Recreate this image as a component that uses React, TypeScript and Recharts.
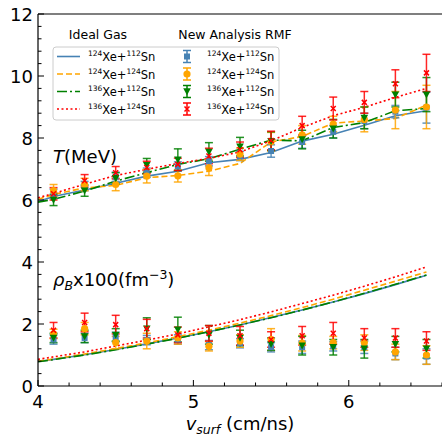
import React from "react";
import {
	ComposedChart,
	Line,
	Scatter,
	ErrorBar,
	XAxis,
	YAxis,
	ReferenceLine,
} from "recharts";

const BLUE = "#4682b4";
const ORANGE = "#ffa500";
const GREEN = "#008000";
const RED = "#ff0000";
const FONT = "DejaVu Sans";

// ideal gas curves
const xLine = [4.0, 4.1, 4.3, 4.5, 4.7, 4.9, 5.1, 5.3, 5.5, 5.7, 5.9, 6.1, 6.3, 6.5];
const tIdealA = [5.95, 6.11, 6.32, 6.54, 6.77, 6.93, 7.2, 7.31, 7.53, 7.9, 8.12, 8.41, 8.72, 8.88];
const tIdealB = [6.02, 6.18, 6.39, 6.47, 6.72, 6.79, 6.93, 7.18, 7.87, 8.05, 8.48, 8.55, 8.63, 9.06];
const tIdealC = [5.93, 6.02, 6.29, 6.61, 6.88, 7.15, 7.33, 7.64, 7.93, 7.91, 8.34, 8.5, 8.88, 8.95];
const tIdealD = [6.07, 6.21, 6.51, 6.79, 6.99, 7.18, 7.34, 7.55, 7.91, 8.34, 8.72, 8.99, 9.31, 9.6];
const rIdealA = [0.79, 0.86, 1.01, 1.18, 1.36, 1.55, 1.75, 1.97, 2.21, 2.45, 2.71, 2.98, 3.27, 3.57];
const rIdealB = [0.8, 0.87, 1.03, 1.21, 1.39, 1.59, 1.8, 2.03, 2.27, 2.53, 2.8, 3.09, 3.38, 3.68];
const rIdealC = [0.78, 0.85, 1.0, 1.17, 1.35, 1.54, 1.75, 1.97, 2.2, 2.45, 2.71, 2.99, 3.28, 3.58];
const rIdealD = [0.86, 0.94, 1.1, 1.29, 1.48, 1.68, 1.91, 2.14, 2.39, 2.66, 2.93, 3.22, 3.52, 3.84];

// new analysis RMF points
const xPts = [4.1, 4.3, 4.5, 4.7, 4.9, 5.1, 5.3, 5.5, 5.7, 5.9, 6.1, 6.3, 6.5];
const tRmfA = [6.2, 6.45, 6.75, 6.88, 7.08, 7.25, 7.42, 7.58, 7.87, 8.2, 8.55, 8.85, 8.98];
const tErrA = [0.15, 0.15, 0.15, 0.15, 0.15, 0.15, 0.15, 0.2, 0.2, 0.2, 0.25, 0.2, 0.5];
const tRmfB = [6.3, 6.5, 6.5, 6.77, 6.78, 7.04, 7.48, 7.88, 8.1, 8.45, 8.6, 8.9, 9.0];
const tErrB = [0.2, 0.2, 0.2, 0.22, 0.2, 0.25, 0.2, 0.3, 0.3, 0.25, 0.4, 0.6, 0.7];
const tRmfC = [6.0, 6.3, 6.7, 7.12, 7.3, 7.55, 7.72, 7.9, 7.95, 8.3, 8.65, 9.4, 9.4];
const tErrC = [0.18, 0.18, 0.18, 0.22, 0.35, 0.3, 0.3, 0.3, 0.3, 0.3, 0.35, 0.4, 0.55];
const tRmfD = [6.2, 6.62, 6.88, 7.05, 7.15, 7.42, 7.62, 7.92, 8.4, 8.95, 9.15, 9.75, 10.1];
const tErrD = [0.2, 0.2, 0.2, 0.2, 0.2, 0.25, 0.25, 0.3, 0.3, 0.37, 0.35, 0.45, 0.6];
const rRmfA = [1.5, 1.55, 1.58, 1.48, 1.5, 1.32, 1.38, 1.25, 1.25, 1.28, 1.25, 1.05, 0.95];
const rErrA = [0.15, 0.15, 0.15, 0.15, 0.15, 0.15, 0.15, 0.15, 0.2, 0.15, 0.2, 0.2, 0.25];
const rRmfB = [1.68, 1.85, 1.4, 1.45, 1.55, 1.28, 1.45, 1.5, 1.38, 1.4, 1.4, 1.1, 1.0];
const rErrB = [0.15, 0.2, 0.2, 0.25, 0.2, 0.15, 0.2, 0.35, 0.25, 0.2, 0.25, 0.25, 0.3];
const rRmfC = [1.55, 1.6, 1.65, 1.85, 1.82, 1.65, 1.55, 1.35, 1.3, 1.25, 1.2, 1.35, 1.2];
const rErrC = [0.15, 0.2, 0.2, 0.35, 0.4, 0.3, 0.25, 0.2, 0.3, 0.25, 0.3, 0.25, 0.3];
const rRmfD = [1.8, 2.05, 1.98, 1.85, 1.65, 1.7, 1.62, 1.5, 1.62, 1.7, 1.55, 1.55, 1.45];
const rErrD = [0.25, 0.3, 0.3, 0.3, 0.25, 0.25, 0.3, 0.25, 0.3, 0.35, 0.3, 0.3, 0.3];

// ticks
const xTicks = [4.0, 4.2, 4.4, 4.6, 4.8, 5.0, 5.2, 5.4, 5.6, 5.8, 6.0, 6.2, 6.4, 6.6];
const xMajor = [4, 5, 6];
const yTicks = [
	0, 0.4, 0.8, 1.2, 1.6, 2, 2.4, 2.8, 3.2, 3.6, 4, 4.4, 4.8, 5.2, 5.6, 6, 6.4,
	6.8, 7.2, 7.6, 8, 8.4, 8.8, 9.2, 9.6, 10, 10.4, 10.8, 11.2, 11.6, 12,
];
const yMajor = [0, 2, 4, 6, 8, 10, 12];

const reactions = [
	{ a: "124", b: "112" },
	{ a: "124", b: "124" },
	{ a: "136", b: "112" },
	{ a: "136", b: "124" },
];

const lineRows = xLine.map((x, i) => ({
	x,
	tA: tIdealA[i],
	tB: tIdealB[i],
	tC: tIdealC[i],
	tD: tIdealD[i],
	rA: rIdealA[i],
	rB: rIdealB[i],
	rC: rIdealC[i],
	rD: rIdealD[i],
}));

const pts = (vals: number[], errs: number[]) =>
	xPts.map((x, i) => ({ x, y: vals[i], e: errs[i] }));

const isMajor = (v: number, list: number[]) =>
	list.some((m) => Math.abs(m - v) < 1e-6);

const Square = (p: any) => (
	<rect x={p.cx - 3} y={p.cy - 3} width={6} height={6} fill={BLUE} />
);
const Circ = (p: any) => <circle cx={p.cx} cy={p.cy} r={3.6} fill={ORANGE} />;
const Tri = (p: any) => (
	<polygon
		points={`${p.cx - 3.8},${p.cy - 3.2} ${p.cx + 3.8},${p.cy - 3.2} ${p.cx},${p.cy + 3.8}`}
		fill={GREEN}
	/>
);
const Cross = (p: any) => (
	<path
		d={`M${p.cx - 2.5},${p.cy - 2.5}L${p.cx + 2.5},${p.cy + 2.5}M${p.cx - 2.5},${p.cy + 2.5}L${p.cx + 2.5},${p.cy - 2.5}`}
		stroke={RED}
		strokeWidth={1.5}
	/>
);

const markers = [Square, Circ, Tri, Cross];
const colors = [BLUE, ORANGE, GREEN, RED];
const dashes = ["", "6 3", "10 3 2 3", "2 2.5"];

function YTick(props: any) {
	const { x, y, payload } = props;
	const major = isMajor(payload.value, yMajor);
	return (
		<g>
			<line x1={x} x2={x + (major ? 6 : 3.5)} y1={y} y2={y} stroke='#000' />
			{major && (
				<text
					x={x - 5}
					y={y + 6.5}
					textAnchor='end'
					fontSize={18}
					fontFamily={FONT}
					fill='#000'>
					{payload.value}
				</text>
			)}
		</g>
	);
}

function XTick(props: any) {
	const { x, y, payload } = props;
	const major = isMajor(payload.value, xMajor);
	return (
		<g>
			<line x1={x} x2={x} y1={y} y2={y - (major ? 6 : 3.5)} stroke='#000' />
			{major && (
				<text
					x={x}
					y={y + 22}
					textAnchor='middle'
					fontSize={18}
					fontFamily={FONT}
					fill='#000'>
					{Math.round(payload.value)}
				</text>
			)}
		</g>
	);
}

function IsoLabel({ x, y, a, b }: { x: number; y: number; a: string; b: string }) {
	return (
		<text x={x} y={y} fontSize={11.5} fontFamily={FONT} fill='#000'>
			<tspan fontSize={7.5} dy={-5}>
				{a}
			</tspan>
			<tspan dy={5}>Xe+</tspan>
			<tspan fontSize={7.5} dy={-5}>
				{b}
			</tspan>
			<tspan dy={5}>Sn</tspan>
		</text>
	);
}

function Overlay() {
	const rows = [61, 78.5, 96, 113.5];
	return (
		<svg
			width={442}
			height={436}
			style={{ position: "absolute", left: 0, top: 0, pointerEvents: "none" }}>
			<text x={98} y={39} textAnchor='middle' fontSize={12.5} fontFamily={FONT}>
				Ideal Gas
			</text>
			<text x={235} y={39} textAnchor='middle' fontSize={12.5} fontFamily={FONT}>
				New Analysis RMF
			</text>
			<rect
				x={53}
				y={47}
				width={226}
				height={73}
				rx={3}
				fill='#fff'
				fillOpacity={0.8}
				stroke='#cccccc'
			/>
			{reactions.map((r, i) => {
				const cy = rows[i] - 4.5;
				const M = markers[i];
				return (
					<g key={i}>
						<line
							x1={57}
							x2={80}
							y1={cy}
							y2={cy}
							stroke={colors[i]}
							strokeWidth={1.6}
							strokeDasharray={dashes[i]}
						/>
						<IsoLabel x={88} y={rows[i]} a={r.a} b={r.b} />
						<g stroke={colors[i]} strokeWidth={1.5}>
							<line x1={187} x2={187} y1={cy - 6} y2={cy + 6} />
							<line x1={183} x2={191} y1={cy - 6} y2={cy - 6} />
							<line x1={183} x2={191} y1={cy + 6} y2={cy + 6} />
						</g>
						<M cx={187} cy={cy} />
						<IsoLabel x={207} y={rows[i]} a={r.a} b={r.b} />
					</g>
				);
			})}
			<text x={53} y={163} fontSize={18} fontFamily={FONT}>
				<tspan fontStyle='italic'>T</tspan>
				<tspan>(MeV)</tspan>
			</text>
			<text x={53} y={286} fontSize={18} fontFamily={FONT}>
				<tspan fontStyle='italic'>ρ</tspan>
				<tspan fontStyle='italic' fontSize={12.5} dy={4}>
					B
				</tspan>
				<tspan dy={-4}>x100(fm</tspan>
				<tspan fontSize={12.5} dy={-7}>
					−3
				</tspan>
				<tspan dy={7}>)</tspan>
			</text>
			<text x={240} y={430} textAnchor='middle' fontSize={18} fontFamily={FONT}>
				<tspan fontStyle='italic'>v</tspan>
				<tspan fontStyle='italic' fontSize={12.5} dy={4}>
					surf
				</tspan>
				<tspan dy={-4}> (cm/ns)</tspan>
			</text>
		</svg>
	);
}

const tSets = [
	[tRmfA, tErrA],
	[tRmfB, tErrB],
	[tRmfC, tErrC],
	[tRmfD, tErrD],
];
const rSets = [
	[rRmfA, rErrA],
	[rRmfB, rErrB],
	[rRmfC, rErrC],
	[rRmfD, rErrD],
];
const keys = ["A", "B", "C", "D"];

export default function App() {
	return (
		<div style={{ position: "absolute", left: 0, top: 0, width: 442, height: 436, background: "#fff" }}>
			<ComposedChart
				width={442}
				height={436}
				data={lineRows}
				margin={{ top: 14, right: 0, bottom: 0, left: 0 }}>
				<XAxis
					type='number'
					dataKey='x'
					domain={[4, 6.6]}
					ticks={xTicks}
					interval={0}
					tick={<XTick />}
					tickLine={false}
					tickSize={0}
					tickMargin={0}
					height={50}
					allowDataOverflow
					axisLine={{ stroke: "#000", strokeWidth: 1.2 }}
				/>
				<YAxis
					type='number'
					domain={[0, 12]}
					ticks={yTicks}
					interval={0}
					tick={<YTick />}
					tickLine={false}
					tickSize={0}
					tickMargin={0}
					width={38}
					allowDataOverflow
					axisLine={{ stroke: "#000", strokeWidth: 1.2 }}
				/>
				<ReferenceLine y={12} stroke='#000' strokeWidth={1.2} />
				{keys.map((k, i) => (
					<Line
						key={"t" + k}
						dataKey={"t" + k}
						type='linear'
						stroke={colors[i]}
						strokeWidth={1.6}
						strokeDasharray={dashes[i]}
						dot={false}
						isAnimationActive={false}
					/>
				))}
				{keys.map((k, i) => (
					<Line
						key={"r" + k}
						dataKey={"r" + k}
						type='linear'
						stroke={colors[i]}
						strokeWidth={1.6}
						strokeDasharray={dashes[i]}
						dot={false}
						isAnimationActive={false}
					/>
				))}
				{tSets.map(([v, e], i) => (
					<Scatter
						key={"ts" + i}
						data={pts(v, e)}
						dataKey='y'
						shape={markers[i]}
						isAnimationActive={false}>
						<ErrorBar
							dataKey='e'
							direction='y'
							width={4}
							stroke={colors[i]}
							strokeWidth={1.5}
							strokeOpacity={0.85}
						/>
					</Scatter>
				))}
				{rSets.map(([v, e], i) => (
					<Scatter
						key={"rs" + i}
						data={pts(v, e)}
						dataKey='y'
						shape={markers[i]}
						isAnimationActive={false}>
						<ErrorBar
							dataKey='e'
							direction='y'
							width={4}
							stroke={colors[i]}
							strokeWidth={1.5}
							strokeOpacity={0.85}
						/>
					</Scatter>
				))}
			</ComposedChart>
			<Overlay />
		</div>
	);
}
